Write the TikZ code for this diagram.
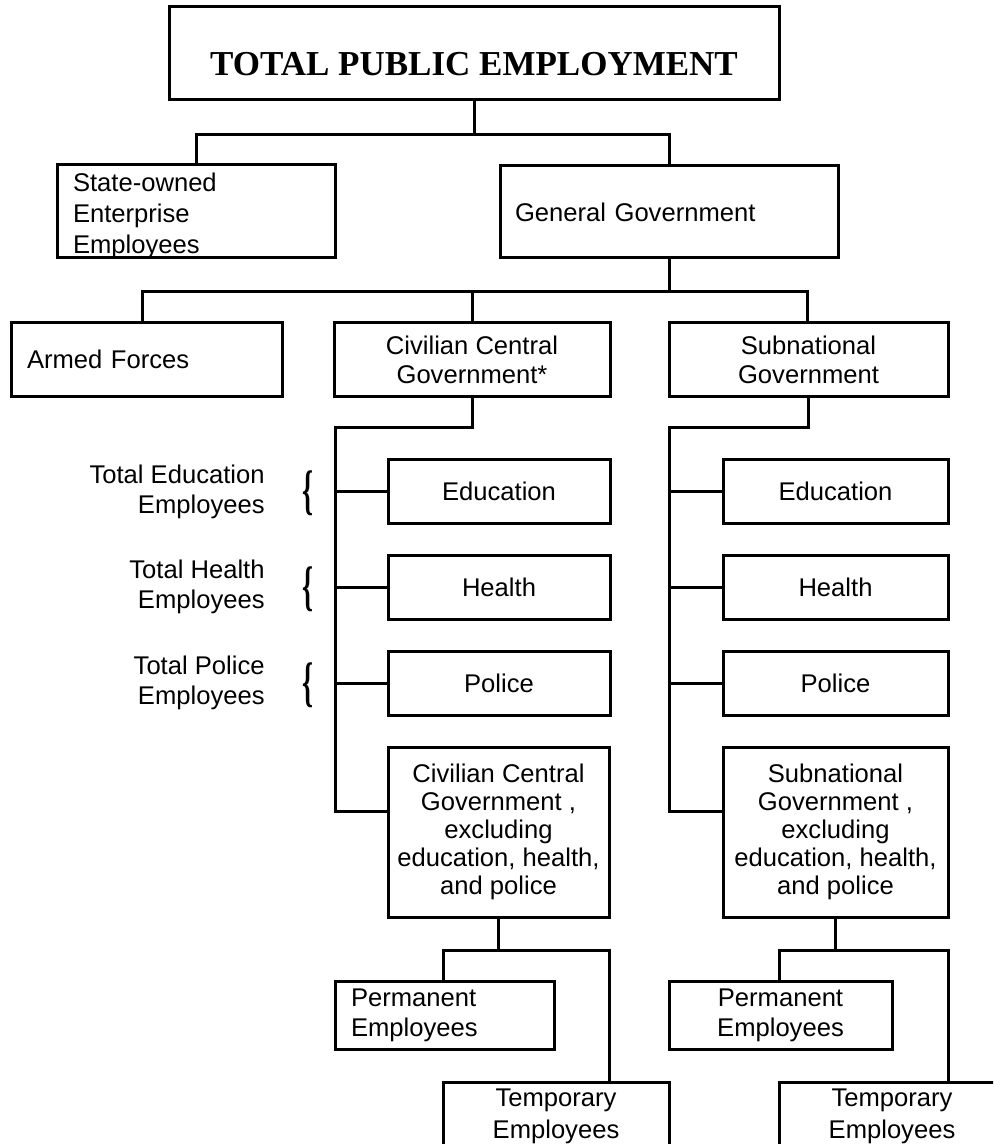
\documentclass[tikz,border=0pt]{standalone}
\usepackage{fontspec}
\setmainfont{Liberation Sans}
\newfontfamily\titlefont{Liberation Serif}
\usepackage{graphicx}
\begin{document}
\begin{tikzpicture}[x=0.5pt,y=-0.5pt,
  box/.style={draw, line width=1.5pt, inner sep=0pt, align=center,
    font=\fontsize{12.8}{14.5}\selectfont},
  lbox/.style={box, align=left},
  conn/.style={line width=1.5pt, line cap=rect},
  lab/.style={font=\fontsize{12.8}{15}\selectfont, align=right, anchor=east, inner sep=0pt},
  bracenode/.style={inner sep=0pt}]
\useasboundingbox (0,0) rectangle (993,1144);
\clip (0,0) rectangle (993,1144);

% level 0
\node[box, minimum width=305pt, minimum height=46.5pt] (top) at (474,53.5)
  {\raisebox{-5.25pt}[\height][\depth]{\titlefont\bfseries\fontsize{17.5}{20}\selectfont TOTAL PUBLIC EMPLOYMENT}};

% level 1
\node[lbox, minimum width=139pt, minimum height=46.5pt, text width=123pt, inner xsep=8pt,
  font=\fontsize{12.8}{15.5}\selectfont] (soe) at (196,211.5)
  {\raisebox{-2.5pt}[\height][\depth]{\begin{tabular}{@{}l@{}}State-owned\\Enterprise\\Employees\end{tabular}}};
\node[lbox, minimum width=169pt, minimum height=46pt, text width=154pt, inner xsep=7.5pt] (gg) at (669,212) {General Government};

% level 2
\node[lbox, minimum width=135.5pt, minimum height=36.5pt, text width=119.5pt, inner xsep=8pt] (armed) at (146.5,359.5) {Armed Forces};
\node[box, minimum width=138pt, minimum height=36.5pt] (ccg) at (472,359.5) {Civilian Central\\Government*};
\node[box, minimum width=139.5pt, minimum height=36.5pt] (sg) at (808.5,359.5) {Subnational\\Government};

% central branches
\node[box, minimum width=111pt, minimum height=32pt] (ledu) at (499,491) {Education};
\node[box, minimum width=111pt, minimum height=32pt] (lhea) at (499,587) {Health};
\node[box, minimum width=111pt, minimum height=32pt] (lpol) at (499,683) {Police};
\node[box, minimum width=110.5pt, minimum height=85pt, font=\fontsize{12.8}{14}\selectfont] (ccgx) at (498.5,832)
  {Civilian Central\\Government ,\\excluding\\education, health,\\and police};

% subnational branches
\node[box, minimum width=112.5pt, minimum height=32pt] (redu) at (835.5,491) {Education};
\node[box, minimum width=112.5pt, minimum height=32pt] (rhea) at (835.5,587) {Health};
\node[box, minimum width=112.5pt, minimum height=32pt] (rpol) at (835.5,683) {Police};
\node[box, minimum width=112.5pt, minimum height=85pt, font=\fontsize{12.8}{14}\selectfont] (sgx) at (835.5,832)
  {Subnational\\Government ,\\excluding\\education, health,\\and police};

% bottom
\node[lbox, minimum width=109.5pt, minimum height=34pt, text width=93.5pt, inner xsep=8pt,
  font=\fontsize{12.8}{15}\selectfont] (lperm) at (444.5,1015) {Permanent\\Employees};
\node[box, minimum width=113pt, minimum height=34pt, font=\fontsize{12.8}{16}\selectfont] (ltemp) at (556,1116) {Temporary\\Employees};
\node[box, minimum width=111.5pt, minimum height=34pt, font=\fontsize{12.8}{15}\selectfont] (rperm) at (780.5,1015) {Permanent\\Employees};
\node[box, minimum width=113pt, minimum height=34pt, font=\fontsize{12.8}{16}\selectfont] (rtemp) at (892,1116) {Temporary\\Employees};

% side labels
\node[lab] (labedu) at (265,492) {Total Education\\Employees};
\node[lab] (labhea) at (265,587) {Total Health\\Employees};
\node[lab] (labpol) at (265,683) {Total Police\\Employees};
\node[bracenode] (bredu) at (308,493) {\resizebox*{5.5pt}{22.5pt}{\titlefont\bfseries\{}};
\node[bracenode] (brhea) at (308,589) {\resizebox*{5.5pt}{22.5pt}{\titlefont\bfseries\{}};
\node[bracenode] (brpol) at (308,685) {\resizebox*{5.5pt}{22.5pt}{\titlefont\bfseries\{}};

% junctions
\coordinate (j1) at (474,135);
\coordinate (j2) at (669,292);
\coordinate (j3) at (335,427);
\coordinate (j4) at (669,427);
\coordinate (lb) at (498.5,950);
\coordinate (rb) at (835.5,950);

% connectors
\draw[conn] (top.south) -- (j1);
\draw[conn] (soe.north) |- (j1) -| (gg.north);
\draw[conn] (gg.south) -- (j2);
\draw[conn] ([xshift=-2.25pt]armed.north) |- (j2) -| ([xshift=-0.75pt]sg.north);
\draw[conn] (ccg.north) -- (ccg.north |- j2);

\draw[conn] (ccg.south) |- (j3) |- ([yshift=10.5pt]ccgx.west);
\draw[conn] (j3 |- ledu.west) -- (ledu.west);
\draw[conn] (j3 |- lhea.west) -- (lhea.west);
\draw[conn] (j3 |- lpol.west) -- (lpol.west);

\draw[conn] ([xshift=-0.25pt]sg.south) |- (j4) |- ([yshift=10.5pt]sgx.west);
\draw[conn] (j4 |- redu.west) -- (redu.west);
\draw[conn] (j4 |- rhea.west) -- (rhea.west);
\draw[conn] (j4 |- rpol.west) -- (rpol.west);

\draw[conn] (ccgx.south) -- (lb);
\draw[conn] ([xshift=-0.75pt]lperm.north) |- (lb) -| ([xshift=26.5pt]ltemp.north);
\draw[conn] (sgx.south) -- (rb);
\draw[conn] ([xshift=-0.75pt]rperm.north) |- (rb) -| ([xshift=28pt]rtemp.north);
\end{tikzpicture}
\end{document}
